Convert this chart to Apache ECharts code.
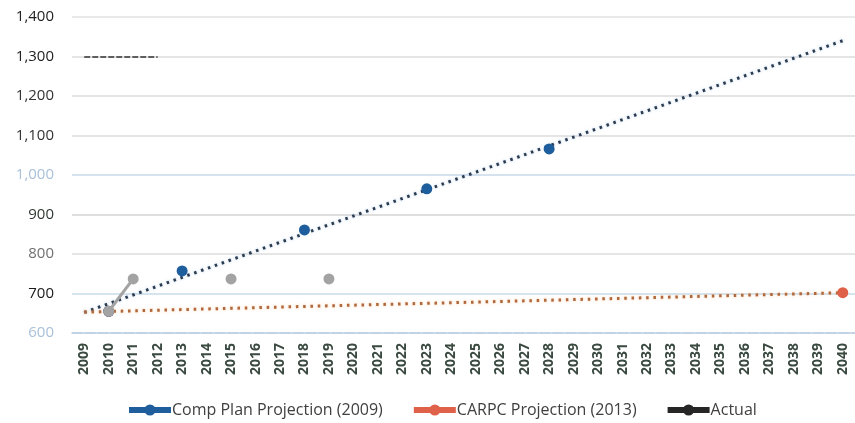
<!DOCTYPE html>
<html>
<head>
<meta charset="utf-8">
<script src="https://cdn.jsdelivr.net/npm/echarts@6/dist/echarts.min.js"></script>
<style>html,body{margin:0;padding:0;background:#fff}#c{width:855px;height:423px}</style>
</head>
<body>
<div id="c"></div>
<script>
var years = ['2009','2010','2011','2012','2013','2014','2015','2016','2017','2018','2019','2020','2021','2022','2023','2024','2025','2026','2027','2028','2029','2030','2031','2032','2033','2034','2035','2036','2037','2038','2039','2040'];
// values by year index (null = no value)
var compPlan = [null,655,null,null,757,null,null,null,null,861,null,null,null,null,965,null,null,null,null,1066,null,null,null,null,null,null,null,null,null,null,null,null];
var carpc    = [null,655,null,null,null,null,null,null,null,null,null,null,null,null,null,null,null,null,null,null,null,null,null,null,null,null,null,null,null,null,null,702];
var actual   = [null,655,737,null,null,null,737,null,null,null,737,null,null,null,null,null,null,null,null,null,null,null,null,null,null,null,null,null,null,null,null,null];
// linear trendline end values (2009 and 2040)
var compTrend  = [652,null,null,null,null,null,null,null,null,null,null,null,null,null,null,null,null,null,null,null,null,null,null,null,null,null,null,null,null,null,null,1340];
var carpcTrend = [653,null,null,null,null,null,null,null,null,null,null,null,null,null,null,null,null,null,null,null,null,null,null,null,null,null,null,null,null,null,null,702];
var yTicks = [600,700,800,900,1000,1100,1200,1300,1400];

var labelColors = {600:'#a9c1d9',700:'#1a1a1a',800:'#707070',900:'#2f3a33',1000:'#a9c1d9',1100:'#333',1200:'#333',1300:'#222',1400:'#222'};
var font = 'Open Sans';
var chart = echarts.init(document.getElementById('c'));
chart.setOption({
  animation:false,
  grid:{left:72, top:17, width:789, height:316},
  legend:{
    left:121, top:397, itemWidth:42, itemHeight:14, itemGap:28,
    textStyle:{fontFamily:font, fontSize:16, color:'#404040', padding:[0,0,0,-4]},
    data:[
      {name:'Comp Plan Projection (2009)', lineStyle:{width:6}},
      {name:'CARPC Projection (2013)', lineStyle:{width:6}},
      {name:'Actual', itemStyle:{color:'#262626'}, lineStyle:{color:'#262626', width:6}}
    ]
  },
  xAxis:{
    type:'category', data:years, boundaryGap:true,
    axisTick:{show:false},
    axisLine:{lineStyle:{color:'#bcd0e4', width:1.5, type:[10,3]}},
    axisLabel:{rotate:90, margin:10, fontFamily:font, fontSize:14, fontWeight:'bold', color:'#3a4a40', interval:0}
  },
  yAxis:{
    type:'value', min:600, max:1400, interval:100,
    axisLine:{show:false}, axisTick:{show:false},
    axisLabel:{
      margin:18, fontFamily:font, fontSize:15,
      formatter:function(v){ return '{c' + v + '|' + v.toLocaleString('en-US') + '}'; },
      rich:(function(){var r={}; yTicks.forEach(function(t){ r['c'+t]={color:labelColors[t], fontFamily:font, fontSize:15}; }); return r;})()
    },
    splitLine:{lineStyle:{color:['#bcd0e4','#c8dbe9','#dcdcdc','#d4d4d4','#c9d9e8','#dcdcdc','#dcdcdc','#dcdcdc','#e2e2e2'], width:1.5}}
  },
  series:[
    {name:'Comp Plan Trend', type:'line', data:compTrend, connectNulls:true, symbol:'none', z:3,
     lineStyle:{color:'#2c3b4e', width:3, type:[2.5,4.8], shadowColor:'rgba(120,170,220,0.6)', shadowBlur:3}},
    {name:'CARPC Trend', type:'line', data:carpcTrend, connectNulls:true, symbol:'none', z:3,
     lineStyle:{color:'#b0683c', width:3, type:[2.5,4.8], shadowColor:'rgba(250,180,120,0.7)', shadowBlur:3},
     markLine:{silent:true, symbol:'none', label:{show:false},
       lineStyle:{color:'#333', width:1.5, type:[6,2]},
       data:[[{coord:['2009',1300]},{coord:['2012',1300]}]]}},
    {name:'CARPC Projection (2013)', type:'line', data:carpc, connectNulls:false, symbol:'circle', symbolSize:11, z:4,
     itemStyle:{color:'#e0614a'}, lineStyle:{color:'#e0614a', width:3}},
    {name:'Comp Plan Projection (2009)', type:'line', data:compPlan, connectNulls:false, symbol:'circle', symbolSize:11, z:5,
     itemStyle:{color:'#1f5e9c'}, lineStyle:{color:'#1f5e9c', width:3}},
    {name:'Actual', type:'line', data:actual, connectNulls:false, symbol:'circle', symbolSize:11, z:6,
     itemStyle:{color:'#a3a3a3'}, lineStyle:{color:'#a3a3a3', width:3}}
  ]
});
</script>
</body>
</html>
